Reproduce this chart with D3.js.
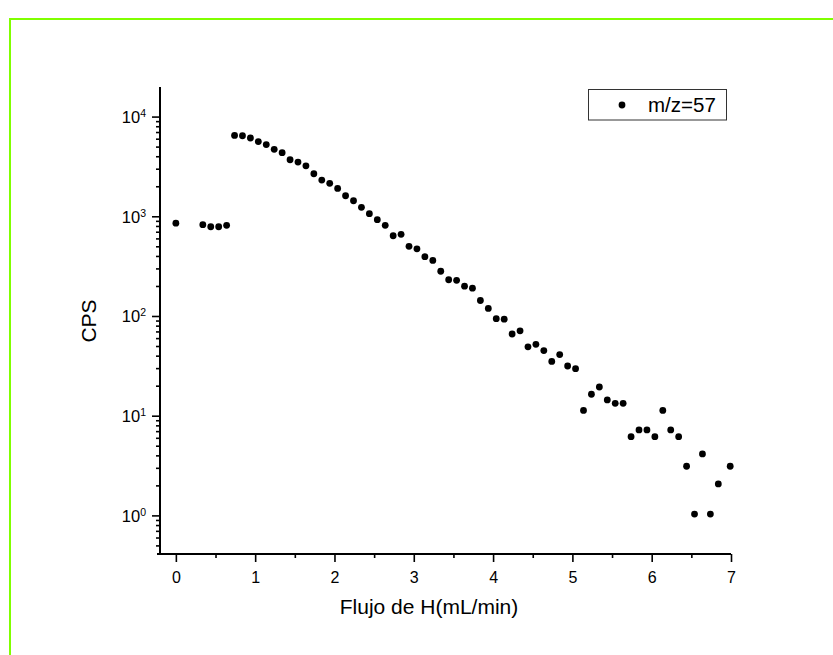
<!DOCTYPE html>
<html>
<head>
<meta charset="utf-8">
<script src="https://cdn.jsdelivr.net/npm/d3@7"></script>
<style>
  html, body { margin: 0; padding: 0; background: #fff; }
  svg { display: block; font-family: "Liberation Sans", Arial, sans-serif; }
</style>
</head>
<body>
<svg id="chart" width="833" height="655"></svg>
<script>
const flow = [0, 0.34, 0.44, 0.54, 0.64,
  0.74, 0.84, 0.94, 1.04, 1.14, 1.24, 1.34, 1.44, 1.54, 1.64,
  1.74, 1.84, 1.94, 2.04, 2.14, 2.24, 2.34, 2.44, 2.54, 2.64,
  2.74, 2.84, 2.94, 3.04, 3.14, 3.24, 3.34, 3.44, 3.54, 3.64,
  3.74, 3.84, 3.94, 4.04, 4.14, 4.24, 4.34, 4.44, 4.54, 4.64,
  4.74, 4.84, 4.94, 5.04, 5.14, 5.24, 5.34, 5.44, 5.54, 5.64,
  5.74, 5.84, 5.94, 6.04, 6.14, 6.24, 6.34, 6.44, 6.54, 6.64,
  6.74, 6.84, 6.99];
const cps = [852, 823, 785, 785, 811,
  6475, 6420, 6100, 5620, 5240, 4690, 4340, 3690, 3500, 3210,
  2670, 2310, 2140, 1905, 1607, 1432, 1230, 1062, 925, 811,
  638, 659, 500, 472, 393, 361, 281, 231, 228, 199,
  190, 143, 119, 94, 93, 66, 71, 49, 52, 45,
  35, 41, 31.5, 29.6, 11.3, 16.4, 19.4, 14.4, 13.3, 13.3,
  6.16, 7.2, 7.2, 6.16, 11.3, 7.2, 6.16, 3.11, 1.03, 4.14,
  1.03, 2.07, 3.11];
const xTicks = [0, 1, 2, 3, 4, 5, 6, 7];
const xMinorTicks = [0.5, 1.5, 2.5, 3.5, 4.5, 5.5, 6.5];
const yExponents = [0, 1, 2, 3, 4];
const seriesName = "m/z=57";
const xTitle = "Flujo de H(mL/min)";
const yTitle = "CPS";

const svg = d3.select("#chart");
svg.append("rect").attr("width", 833).attr("height", 655).attr("fill", "#fff");

// green frame (top and left edges visible)
svg.append("path")
  .attr("d", "M10,655 L10,19 L833,19")
  .attr("fill", "none").attr("stroke", "#80ff00").attr("stroke-width", 2);

const x = d3.scaleLinear().domain([-0.2, 7]).range([160, 731]);
const y = d3.scaleLog().domain([0.41, 19800]).range([554, 87]);

const axisColor = "#000";
// x axis
const gx = svg.append("g").attr("transform", "translate(0,554)");
gx.call(d3.axisBottom(x).tickValues(xTicks).tickSize(8).tickSizeOuter(0).tickFormat(d3.format("d")));
gx.select(".domain").remove();
gx.selectAll(".tick line").attr("stroke", axisColor).attr("stroke-width", 1.6);
gx.selectAll(".tick text").attr("font-size", 16).attr("fill", "#000").attr("dy", null).attr("y", 29);
const gxm = svg.append("g").attr("transform", "translate(0,554)");
gxm.call(d3.axisBottom(x).tickValues(xMinorTicks).tickSize(4).tickFormat(""));
gxm.select(".domain").remove();
gxm.selectAll(".tick line").attr("stroke", axisColor).attr("stroke-width", 1.6);

// y axis
const yMajor = yExponents.map(e => Math.pow(10, e));
const yMinor = [];
[-1, 0, 1, 2, 3].forEach(e => {
  for (let m = 2; m <= 9; m++) {
    const v = m * Math.pow(10, e);
    if (v >= y.domain()[0] && v <= y.domain()[1]) yMinor.push(v);
  }
});
const gy = svg.append("g").attr("transform", "translate(160,0)");
gy.call(d3.axisLeft(y).tickValues(yMajor).tickSize(8).tickFormat(""));
gy.select(".domain").remove();
gy.selectAll(".tick line").attr("stroke", axisColor).attr("stroke-width", 1.6);
const gym = svg.append("g").attr("transform", "translate(160,0)");
gym.call(d3.axisLeft(y).tickValues(yMinor).tickSize(4).tickFormat(""));
gym.select(".domain").remove();
gym.selectAll(".tick line").attr("stroke", axisColor).attr("stroke-width", 1.6);

// y tick labels 10^n
const yl = svg.append("g");
yExponents.forEach(e => {
  const t = yl.append("text")
    .attr("x", 146).attr("y", y(Math.pow(10, e)) + 6.5)
    .attr("text-anchor", "end").attr("font-size", 16.5).attr("fill", "#000");
  t.append("tspan").text("10");
  t.append("tspan").attr("font-size", 10.5).attr("dy", -6).text(String(e));
});

// axis lines
svg.append("line").attr("x1", 157).attr("x2", 731).attr("y1", 554).attr("y2", 554)
  .attr("stroke", axisColor).attr("stroke-width", 2);
svg.append("line").attr("x1", 160).attr("x2", 160).attr("y1", 87).attr("y2", 555)
  .attr("stroke", axisColor).attr("stroke-width", 2);

// titles
svg.append("text").attr("x", 429).attr("y", 614).attr("text-anchor", "middle")
  .attr("font-size", 21).attr("fill", "#000").text(xTitle);
svg.append("text").attr("transform", "translate(96,321) rotate(-90)").attr("text-anchor", "middle")
  .attr("font-size", 21).attr("fill", "#000").text(yTitle);

// points
svg.append("g").selectAll("circle")
  .data(flow.map((f, i) => ({ f, c: cps[i] })))
  .join("circle")
  .attr("cx", d => x(d.f)).attr("cy", d => y(d.c)).attr("r", 3.4).attr("fill", "#000");

// legend
svg.append("rect").attr("x", 588.5).attr("y", 89.5).attr("width", 138).attr("height", 30.5)
  .attr("fill", "#fff").attr("stroke", "#333").attr("stroke-width", 1);
svg.append("circle").attr("cx", 622).attr("cy", 105).attr("r", 3.4).attr("fill", "#000");
svg.append("text").attr("x", 648).attr("y", 112).attr("font-size", 20.5).attr("fill", "#000").text(seriesName);
</script>
</body>
</html>
